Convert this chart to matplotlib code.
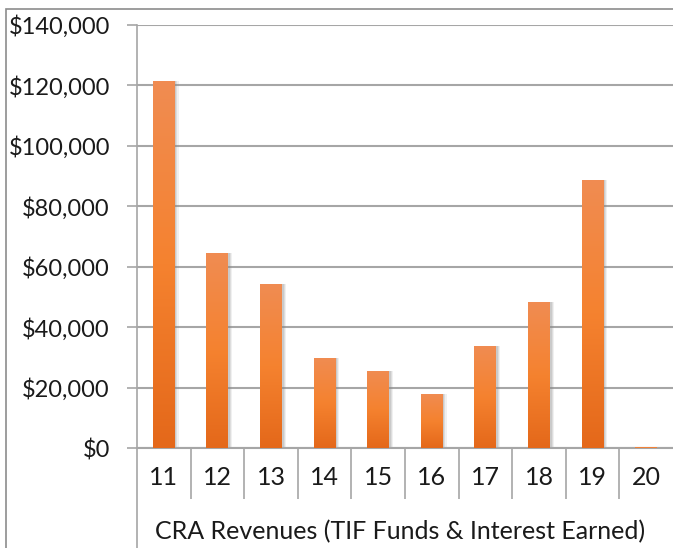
import numpy as np
import matplotlib
matplotlib.use("Agg")
import matplotlib.pyplot as plt
from matplotlib.colors import LinearSegmentedColormap
from matplotlib.patches import Rectangle
from matplotlib.ticker import FuncFormatter

plt.rcParams["font.family"] = ["Lato", "DejaVu Sans"]

years = ["11", "12", "13", "14", "15", "16", "17", "18", "19", "20"]
revenues = [121500, 64500, 54200, 29900, 25600, 18000, 33800, 48300, 88700, 300]
title = "CRA Revenues (TIF Funds & Interest Earned)"

GRID = "#a6a6a6"
TXT = "#1a1a1a"

fig = plt.figure(figsize=(6.73, 5.48), dpi=100)

# outer chart border (right/bottom edges fall outside the crop)
fig.patches.append(Rectangle((6 / 673, -0.1), 1.2, 0.1 + (1 - 9 / 548),
                             transform=fig.transFigure, fill=False,
                             edgecolor="#8c8c8c", lw=1.2))

ax = fig.add_axes([137 / 673, 1 - 448 / 548, 536 / 673, 423 / 548])

x = np.arange(len(years))
cmap = LinearSegmentedColormap.from_list("org", ["#e4681a", "#f5822f", "#f08c52"])
grad = np.linspace(0, 1, 256).reshape(-1, 1)

# soft shadow
for off, a in [(0.07, 0.12), (0.05, 0.18), (0.03, 0.22)]:
    ax.bar(x + off, revenues, width=0.41, color="#8a8a8a", alpha=a, zorder=2, lw=0)
bars = ax.bar(x, revenues, width=0.41, color="#f07a32", zorder=3)
for b in bars:
    im = ax.imshow(grad, cmap=cmap, origin="lower", aspect="auto",
                   extent=[b.get_x(), b.get_x() + b.get_width(), 0, max(b.get_height(), 1)],
                   zorder=4)
    im.set_clip_path(b)

ax.set_xlim(-0.5, len(years) - 0.5)
ax.set_ylim(0, 140000)
ax.set_yticks(np.arange(0, 140001, 20000))
ax.yaxis.set_major_formatter(FuncFormatter(lambda v, p: f"${v:,.0f}"))
ax.grid(axis="y", color=GRID, lw=1.5, zorder=1)
ax.set_axisbelow(True)

# category separators as major ticks, labels as minor ticks
ax.set_xticks(x[:-1] + 0.5)
ax.set_xticklabels([])
ax.set_xticks(x, minor=True)
ax.set_xticklabels(years, minor=True)
ax.tick_params(axis="x", which="major", length=37, width=1.2, color=GRID, direction="out")
ax.tick_params(axis="x", which="minor", length=0, pad=13, labelsize=18, labelcolor=TXT)
ax.tick_params(axis="y", length=7.5, width=1.2, color=GRID, pad=12, labelsize=17, labelcolor=TXT)

for s in ["top", "right"]:
    ax.spines[s].set_visible(False)
ax.spines["bottom"].set_color(GRID)
ax.spines["bottom"].set_linewidth(1.5)
ax.spines["left"].set_color(GRID)
ax.spines["left"].set_linewidth(1.2)
# left axis line runs down past the category labels
ax.plot([0, 0], [0, -0.35], transform=ax.transAxes, color=GRID, lw=1.2, clip_on=False)

fig.text(400 / 673, 1 - 532 / 548, title, ha="center", va="center",
         fontsize=18, color=TXT)

fig.savefig("out.png", dpi=100)
